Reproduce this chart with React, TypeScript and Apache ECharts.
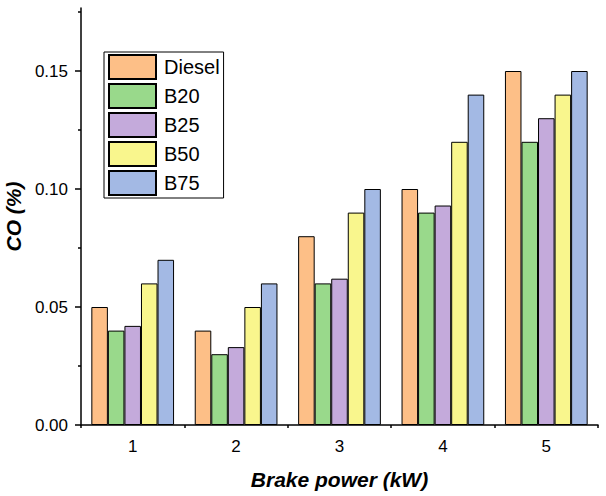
import { useEffect, useRef } from "react";
import * as echarts from "echarts";

// Brake power categories (kW)
const categories = ["1", "2", "3", "4", "5"];

// CO emissions (%) per fuel blend
const diesel = [0.05, 0.04, 0.08, 0.1, 0.15];
const b20 = [0.04, 0.03, 0.06, 0.09, 0.12];
const b25 = [0.042, 0.033, 0.062, 0.093, 0.13];
const b50 = [0.06, 0.05, 0.09, 0.12, 0.14];
const b75 = [0.07, 0.06, 0.1, 0.14, 0.15];

const majorTicks = [0, 0.05, 0.1, 0.15];
const minorTicks = [0.025, 0.075, 0.125, 0.175];

const seriesDefs = [
  { name: "Diesel", data: diesel, color: "#FDBF87" },
  { name: "B20", data: b20, color: "#99D98B" },
  { name: "B25", data: b25, color: "#C4AADB" },
  { name: "B50", data: b50, color: "#F9F68D" },
  { name: "B75", data: b75, color: "#A3B9E4" },
];

const FONT = "Arial, 'Liberation Sans', sans-serif";

export default function App() {
  const chartRef = useRef<HTMLDivElement>(null);

  useEffect(() => {
    if (!chartRef.current) return;
    const chart = echarts.init(chartRef.current, null, { renderer: "svg" });

    const axisLine = { show: true, lineStyle: { color: "#000", width: 1.5 } };
    const nameStyle = {
      fontSize: 21,
      fontWeight: "bold",
      fontStyle: "italic",
      color: "#000",
      fontFamily: FONT,
    };

    chart.setOption({
      animation: false,
      backgroundColor: "#fff",
      textStyle: { fontFamily: FONT },
      grid: {
        left: 81,
        right: 8,
        top: 8,
        bottom: 71,
        containLabel: false,
        outerBoundsMode: "none",
      },
      legend: {
        orient: "vertical",
        left: 104,
        top: 52,
        itemWidth: 47,
        itemHeight: 24,
        itemGap: 3,
        padding: [2, 4, 2, 4],
        borderColor: "#000",
        borderWidth: 1,
        icon: "rect",
        textStyle: { fontSize: 20, color: "#000", fontFamily: FONT, padding: [0, 0, 0, 3] },
        data: seriesDefs.map((s) => s.name),
      },
      xAxis: [
        {
          type: "category",
          data: categories,
          boundaryGap: true,
          name: "Brake power (kW)",
          nameLocation: "middle",
          nameGap: 44,
          nameTextStyle: nameStyle,
          axisLine,
          axisTick: { alignWithLabel: true, length: 5, lineStyle: { color: "#000", width: 1.5 } },
          axisLabel: { fontSize: 17, color: "#000", margin: 13, fontFamily: FONT },
          splitLine: { show: false },
        },
        {
          type: "category",
          data: categories,
          boundaryGap: true,
          position: "bottom",
          axisLine: { show: false },
          axisTick: { show: true, length: 3, lineStyle: { color: "#000", width: 1.5 } },
          axisLabel: { show: false },
          splitLine: { show: false },
        },
      ],
      yAxis: [
        {
          type: "value",
          min: 0,
          max: 0.1767,
          name: "CO (%)",
          nameLocation: "middle",
          nameGap: 51,
          nameTextStyle: nameStyle,
          axisLine,
          axisTick: { show: true, customValues: majorTicks, length: 6, lineStyle: { color: "#000", width: 1.5 } },
          axisLabel: {
            customValues: majorTicks,
            fontSize: 17,
            color: "#000",
            margin: 13,
            fontFamily: FONT,
            formatter: (v: number) => v.toFixed(2),
          },
          splitLine: { show: false },
        },
        {
          type: "value",
          min: 0,
          max: 0.1767,
          position: "left",
          axisLine: { show: false },
          axisTick: { show: true, customValues: minorTicks, length: 3, lineStyle: { color: "#000", width: 1.5 } },
          axisLabel: { show: false },
          splitLine: { show: false },
        },
      ],
      series: seriesDefs.map((s) => ({
        name: s.name,
        type: "bar",
        data: s.data,
        barGap: "0%",
        barCategoryGap: "20%",
        itemStyle: { color: s.color, borderColor: "#000", borderWidth: 1 },
      })),
    });

    return () => chart.dispose();
  }, []);

  return (
    <div
      ref={chartRef}
      style={{ position: "fixed", left: 0, top: 0, width: 606, height: 496 }}
    />
  );
}
